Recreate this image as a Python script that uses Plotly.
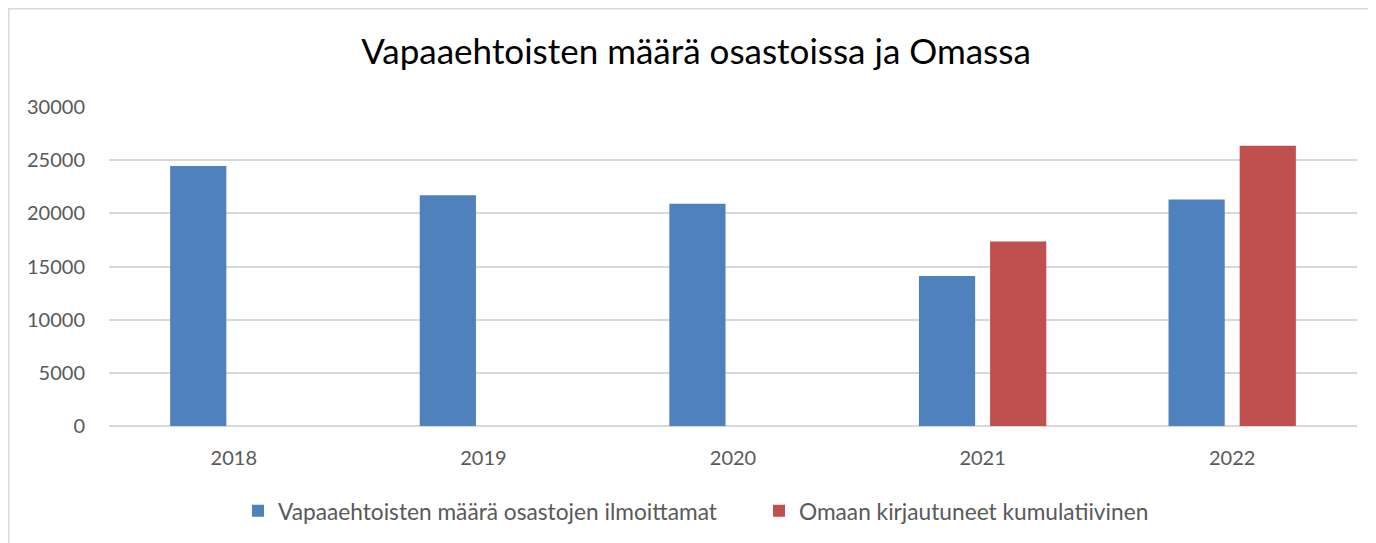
import plotly.graph_objects as go

years = ["2018", "2019", "2020", "2021", "2022"]
osastot = [24450, 21700, 20900, 14100, 21300]
omaan = [None, None, None, 17350, 26350]
series_names = ["Vapaaehtoisten määrä osastojen ilmoittamat", "Omaan kirjautuneet kumulatiivinen"]
title_text = "Vapaaehtoisten määrä osastoissa ja Omassa"
y_ticks = [0, 5000, 10000, 15000, 20000, 25000, 30000]
y_labels = ["0", "5000", "10000", "15000", "20000", "25000", "30000"]

# page body has an 8px margin; work in figure coordinates = screen - 8
OFF = 8
W, H = 1376 - OFF, 543 - OFF
L, T = 109 - OFF, 107 - OFF
R = W - (1357 - OFF)
B = H - (426 - OFF)
pw, ph = W - L - R, H - T - B

font = "Lato"
fig = go.Figure()
fig.add_trace(go.Bar(x=years, y=osastot, name=series_names[0], legend="legend",
                     marker=dict(color="#4f81bd", line=dict(width=0))))
fig.add_trace(go.Bar(x=years, y=omaan, name=series_names[1], legend="legend2",
                     marker=dict(color="#c0504d", line=dict(width=0))))

def px(x):
    return (x - OFF - L) / pw

def py(y):
    return 1 - (y - OFF - T) / ph

leg_common = dict(orientation="h", yanchor="middle", xanchor="left",
                  font=dict(family=font, size=22.7, color="#595959"), itemwidth=30,
                  bgcolor="rgba(0,0,0,0)")

fig.update_layout(
    width=W, height=H,
    margin=dict(l=L, r=R, t=T, b=B, autoexpand=False),
    paper_bgcolor="white", plot_bgcolor="white",
    barmode="group", bargap=0.43, bargroupgap=0.21,
    title=dict(text=title_text, xref="container", x=(696 - OFF) / W, xanchor="center",
               yref="container", y=1 - (52 - OFF) / H, yanchor="middle",
               font=dict(family=font, size=35, color="#000000")),
    font=dict(family=font, size=20, color="#595959"),
    showlegend=True,
    legend=dict(x=px(277 - 39), y=py(511), **leg_common),
    legend2=dict(x=px(798 - 39), y=py(511), **leg_common),
    xaxis=dict(showgrid=False, showline=False, ticks="", tickfont=dict(size=20, color="#595959"), ticklabelstandoff=18),
    yaxis=dict(range=[0, 30000], tickvals=y_ticks, ticktext=y_labels, showgrid=True, gridcolor="#d9d9d9", gridwidth=1.5,
               zeroline=True, zerolinecolor="#d9d9d9", zerolinewidth=1.5, showline=False, ticks="",
               tickfont=dict(size=20, color="#595959"), ticklabelstandoff=23),
    shapes=[
        dict(type="line", xref="paper", yref="paper", x0=px(8), x1=px(1376 + 5), y0=py(8.8), y1=py(8.8),
             line=dict(color="#d9d9d9", width=1.5)),
        dict(type="line", xref="paper", yref="paper", x0=px(8.8), x1=px(8.8), y0=py(8), y1=py(543 + 5),
             line=dict(color="#d9d9d9", width=1.5)),
    ],
)
fig.write_html("out.html")
